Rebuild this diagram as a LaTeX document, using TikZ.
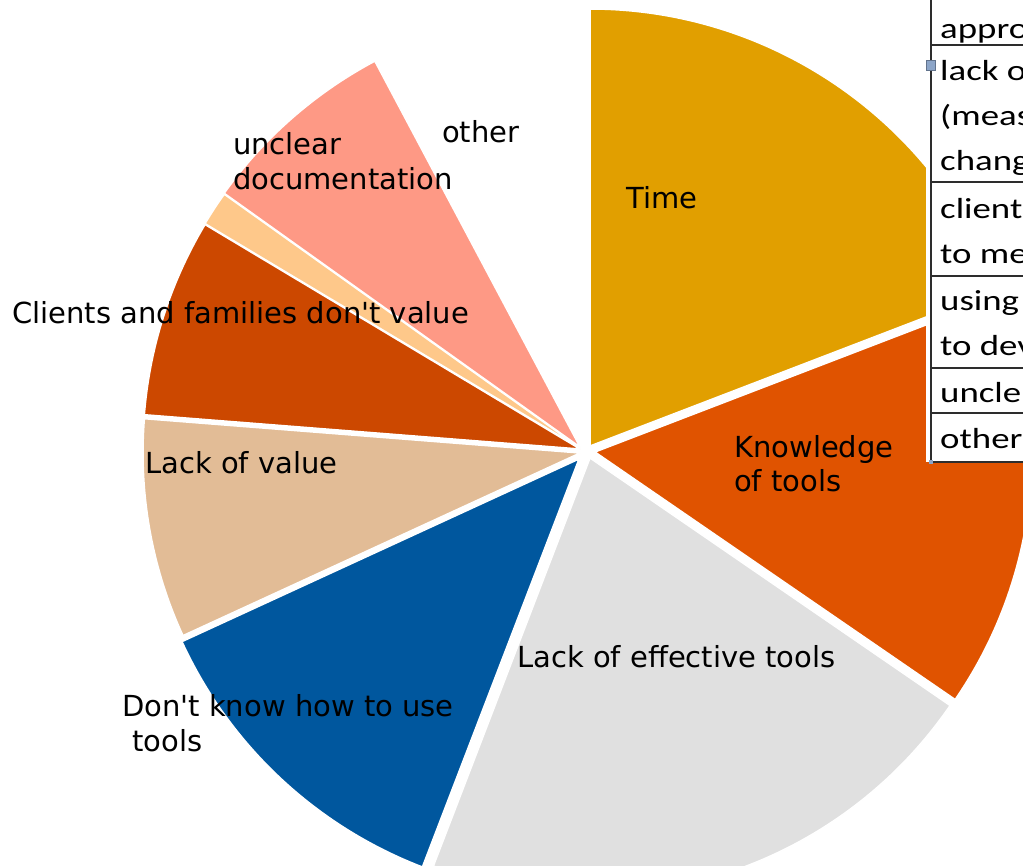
\documentclass[tikz,border=0pt]{standalone}
\usepackage{fontspec}
\setmainfont{DejaVu Sans}
\newfontfamily\tabfont{Carlito}
\definecolor{cTime}{RGB}{225,159,0}
\definecolor{cKnow}{RGB}{224,83,0}
\definecolor{cGray}{RGB}{224,224,224}
\definecolor{cBlue}{RGB}{0,87,158}
\definecolor{cTan}{RGB}{226,188,150}
\definecolor{cClient}{RGB}{204,72,0}
\definecolor{cThin}{RGB}{254,200,138}
\definecolor{cPink}{RGB}{254,153,133}
\definecolor{cLine}{RGB}{45,45,45}
\definecolor{cMark}{RGB}{140,165,200}
\begin{document}
\begin{tikzpicture}[x=1pt,y=1pt,
  slice/.style={draw=white,line width=1.5pt,line join=round},
  lbl/.style={anchor=base west,inner sep=0pt,font=\fontsize{29}{35}\selectfont},
  tlbl/.style={anchor=base west,inner sep=0pt,font=\tabfont\fontsize{29}{35}\selectfont},
  tline/.style={cLine,line width=1.5pt}]
\useasboundingbox (0,0) rectangle (1023,-865);
\clip (0,0) rectangle (1023,-865);
% pie slices
\coordinate (pTime) at (590,-446);
\coordinate (pKnow) at (595,-452);
\coordinate (pGray) at (590,-458);
\coordinate (pBlue) at (579,-459);
\coordinate (pTan) at (580,-453);
\coordinate (pCli) at (580,-449);
\coordinate (pThin) at (580,-448);
\coordinate (pPink) at (580,-447);
\fill[cTime,slice] (pTime) -- ++(21:437) arc[start angle=21,end angle=90,radius=437] -- cycle;
\fill[cKnow,slice] (pKnow) -- ++(-34.5:437) arc[start angle=-34.5,end angle=21,radius=437] -- cycle;
\fill[cGray,slice] (pGray) -- ++(-111:437) arc[start angle=-111,end angle=-34.5,radius=437] -- cycle;
\fill[cBlue,slice] (pBlue) -- ++(-155.3:437) arc[start angle=-155.3,end angle=-111,radius=437] -- cycle;
\fill[cTan,slice] (pTan) -- ++(175.5:437) arc[start angle=175.5,end angle=204.7,radius=437] -- cycle;
\fill[cClient,slice] (pCli) -- ++(149.1:437) arc[start angle=149.1,end angle=175.5,radius=437] -- cycle;
\fill[cThin,slice] (pThin) -- ++(144.5:437) arc[start angle=144.5,end angle=149.1,radius=437] -- cycle;
\fill[cPink,slice] (pPink) -- ++(118:437) arc[start angle=118,end angle=144.5,radius=437] -- cycle;
% legend table (partly visible)
\fill[white] (926,0) rectangle (1030,-462);
\draw[tline] (931,0) -- (931,-462);
\draw[cLine,line width=2.5pt] (931,-45) -- (1030,-45);
\draw[tline] (931,-182) -- (1030,-182);
\draw[tline] (931,-276) -- (1030,-276);
\draw[tline] (931,-368) -- (1030,-368);
\draw[tline] (931,-413) -- (1030,-413);
\draw[tline] (931,-462) -- (1030,-462);
\fill[cMark,draw=cMark!70!black,line width=0.5pt] (926,-60) rectangle (935,-70);
\fill[cMark] (929,-460) rectangle (933,-464);
\node[tlbl] (t1) at (940,-38) {\scalebox{1.27}[1]{appro}};
\node[tlbl] (t2) at (940,-80) {\scalebox{1.27}[1]{lack o}};
\node[tlbl] (t3) at (940,-125) {\scalebox{1.27}[1]{(meas}};
\node[tlbl] (t4) at (940,-170) {\scalebox{1.27}[1]{chang}};
\node[tlbl] (t5) at (940,-218) {\scalebox{1.27}[1]{client}};
\node[tlbl] (t6) at (940,-263) {\scalebox{1.27}[1]{to me}};
\node[tlbl] (t7) at (940,-310) {\scalebox{1.27}[1]{using}};
\node[tlbl] (t8) at (940,-355) {\scalebox{1.27}[1]{to dev}};
\node[tlbl] (t9) at (940,-402) {\scalebox{1.27}[1]{uncle}};
\node[tlbl] (t10) at (940,-448) {\scalebox{1.27}[1]{other}};
% labels
\node[lbl] (lTime) at (626,-208) {Time};
\node[lbl] (lKnow1) at (734,-457) {Knowledge};
\node[lbl] (lKnow2) at (734,-491) {of tools};
\node[lbl] (lEff) at (517,-667) {Lack of effective tools};
\node[lbl] (lDont1) at (122,-716) {Don\textquotesingle t know how to use};
\node[lbl] (lDont2) at (132,-751) {tools};
\node[lbl] (lVal) at (145,-473) {Lack of value};
\node[lbl] (lCli) at (12,-323) {Clients and families don\textquotesingle t value};
\node[lbl] (lUnc1) at (233,-154) {unclear};
\node[lbl] (lUnc2) at (233,-189) {documentation};
\node[lbl] (lOth) at (442,-142) {other};
\end{tikzpicture}
\end{document}
